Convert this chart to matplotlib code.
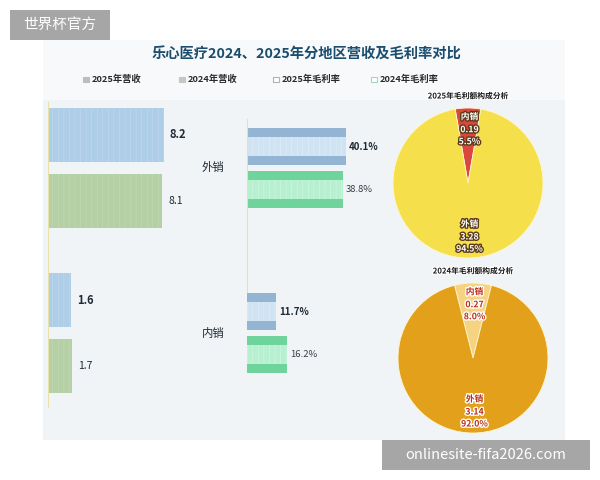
import matplotlib
matplotlib.use("Agg")
import matplotlib.pyplot as plt
import matplotlib.patheffects as pe
from matplotlib.patches import Rectangle

plt.rcParams['font.family'] = ['Noto Sans CJK SC', 'DejaVu Sans']
plt.rcParams['hatch.linewidth'] = 0.4

# ---------------- data ----------------
regions = ['外销', '内销']
rev_2025 = [8.2, 1.6]
rev_2024 = [8.1, 1.7]
gm_2025 = [40.1, 11.7]
gm_2024 = [38.8, 16.2]
pie_labels = ['内销', '外销']
gp_2025 = [0.19, 3.28]
gp_2025_pct = ['5.5%', '94.5%']
gp_2024 = [0.27, 3.14]
gp_2024_pct = ['8.0%', '92.0%']
legend_labels = ['2025年营收', '2024年营收', '2025年毛利率', '2024年毛利率']
title = '乐心医疗2024、2025年分地区营收及毛利率对比'

W, H = 600, 480
fig = plt.figure(figsize=(W / 100, H / 100), dpi=100)
fig.patch.set_facecolor('white')


def box(x0, y0, w, h):
    return [x0 / W, 1 - (y0 + h) / H, w / W, h / H]


bg = fig.add_axes([0, 0, 1, 1])
bg.set_xlim(0, W)
bg.set_ylim(H, 0)
bg.axis('off')

# content background
bg.add_patch(Rectangle((43, 40), 522, 400, facecolor='#f1f4f7', edgecolor='none', zorder=0))
bg.add_patch(Rectangle((43, 40), 522, 60, facecolor='#f7f9fb', edgecolor='none', zorder=0))

# title
bg.text(306, 55, title, ha='center', va='center', fontsize=10.3, fontweight='bold',
        color='#1b4d6e')

# legend
leg_x = [86, 182, 276, 374]
leg_colors = ['#b9bec4', '#c3c8c0', '#ffffff', '#ffffff']
leg_edges = ['#b9bec4', '#c3c8c0', '#a9b4bf', '#9fd9b8']
for lx, lab, fc, ec in zip(leg_x, legend_labels, leg_colors, leg_edges):
    bg.add_patch(Rectangle((lx - 3, 76.5), 5.5, 5.5, facecolor=fc, edgecolor=ec, lw=0.8))
    bg.text(lx + 6, 79.5, lab, ha='left', va='center', fontsize=6.7, fontweight='bold',
            color='#2a2a2a')

# ---------------- revenue bars ----------------
ax_r = fig.add_axes(box(48, 85.5, 141, 330))
ax_r.set_xlim(0, 10)
ax_r.set_ylim(1.5, -0.5)
ax_r.set_facecolor('none')
for s in ['top', 'right', 'bottom']:
    ax_r.spines[s].set_visible(False)
ax_r.spines['left'].set_color('#e8e2a8')
ax_r.spines['left'].set_linewidth(0.8)
ax_r.spines['left'].set_bounds(-0.4, 1.45)
ax_r.set_xticks([])
ax_r.set_yticks([])

ypos = list(range(len(regions)))
off_r, h_r = 0.2, 0.33
y25 = [y - off_r for y in ypos]
y24 = [y + off_r for y in ypos]
ax_r.barh(y25, rev_2025, height=h_r, color='#aecde6', lw=0)
ax_r.barh(y24, rev_2024, height=h_r, color='#b6d0a6', lw=0)
ax_r.barh(y25, rev_2025, height=h_r, color='none', edgecolor='#c2dbee', hatch='|||', lw=0)
ax_r.barh(y24, rev_2024, height=h_r, color='none', edgecolor='#c4dab6', hatch='|||', lw=0)
for y, v in zip(y25, rev_2025):
    ax_r.text(v + 0.45, y, f'{v}', ha='left', va='center', fontsize=8, fontweight='bold',
              color='#1e2a36')
for y, v in zip(y24, rev_2024):
    ax_r.text(v + 0.45, y, f'{v}', ha='left', va='center', fontsize=7.5, color='#1e2a36')

# ---------------- gross margin bars ----------------
ax_m = fig.add_axes(box(247, 85.5, 123.5, 330))
ax_m.set_xlim(0, 50)
ax_m.set_ylim(1.5, -0.5)
ax_m.set_facecolor('none')
for s in ['top', 'right', 'bottom']:
    ax_m.spines[s].set_visible(False)
ax_m.spines['left'].set_color('#e8e2a8')
ax_m.spines['left'].set_linewidth(0.8)
ax_m.spines['left'].set_bounds(-0.3, 0.75)
ax_m.set_xticks([])
ax_m.set_yticks([])

off_m, h_m = 0.13, 0.22
m25 = [y - off_m for y in ypos]
m24 = [y + off_m for y in ypos]
ax_m.barh(m25, gm_2025, height=h_m, color='#93b5d3', lw=0)
ax_m.barh(m25, gm_2025, height=h_m * 0.53, color='#cfe3f3', lw=0)
ax_m.barh(m25, gm_2025, height=h_m * 0.53, color='none', edgecolor='#e2eef8', hatch='|||', lw=0)
ax_m.barh(m24, gm_2024, height=h_m, color='#6fd49c', lw=0)
ax_m.barh(m24, gm_2024, height=h_m * 0.53, color='#b6f0d0', lw=0)
ax_m.barh(m24, gm_2024, height=h_m * 0.53, color='none', edgecolor='#d3f7e3', hatch='|||', lw=0)
for y, v in zip(m25, gm_2025):
    ax_m.text(v + 1.2, y, f'{v}%', ha='left', va='center', fontsize=7, fontweight='bold',
              color='#1e2a36')
for y, v in zip(m24, gm_2024):
    ax_m.text(v + 1.2, y, f'{v}%', ha='left', va='center', fontsize=6.8, color='#3a4048')
for y, r in zip(ypos, regions):
    ax_m.text(-13.8, y, r, ha='center', va='center', fontsize=8.2, color='#1e2a36')

# ---------------- pies ----------------
def draw_pie(cx, cy, r, vals, pcts, colors, title_txt, txt_color, stroke_color):
    ax = fig.add_axes(box(cx - r, cy - r, 2 * r, 2 * r))
    frac = vals[0] / sum(vals)
    ax.pie(vals, colors=colors, startangle=90 - frac * 180, counterclock=True,
           wedgeprops=dict(edgecolor='#fff6d0', linewidth=0.6))
    ax.set_xlim(-1, 1)
    ax.set_ylim(-1, 1)
    ax.set_aspect('equal')
    ax.axis('off')
    eff = [pe.withStroke(linewidth=2, foreground=stroke_color)]
    for lab, v, p, ys in zip(pie_labels, vals, pcts, [(0.88, 0.71, 0.55), (-0.55, -0.72, -0.88)]):
        for t, yy in zip([lab, f'{v}', p], ys):
            ax.text(0.02, yy, t, ha='center', va='center', fontsize=6.3, fontweight='bold',
                    color=txt_color, path_effects=eff)
    bg.text(cx, cy - r - 12, title_txt, ha='center', va='center', fontsize=5.6,
            fontweight='bold', color='#1a1a1a',
            path_effects=[pe.withStroke(linewidth=1.5, foreground='white')])


draw_pie(468, 183, 75, gp_2025, gp_2025_pct, ['#d9473f', '#f5e04c'],
         '2025年毛利额构成分析', 'white', '#5a3a18')
draw_pie(473, 358, 75, gp_2024, gp_2024_pct, ['#f6d383', '#e3a11b'],
         '2024年毛利额构成分析', '#b8301c', 'white')

# ---------------- watermark boxes ----------------
bg.add_patch(Rectangle((10, 10), 100, 30, facecolor='#a6a6a6', edgecolor='none', zorder=5))
bg.text(60, 25, '世界杯官方', ha='center', va='center', fontsize=10.5, color='white', zorder=6)
bg.add_patch(Rectangle((382, 440), 208, 30, facecolor='#a6a6a6', edgecolor='none', zorder=5))
bg.text(486, 455, 'onlinesite-fifa2026.com', ha='center', va='center', fontsize=10.5,
        color='white', zorder=6)

fig.savefig('out.png', dpi=100, facecolor='white')
